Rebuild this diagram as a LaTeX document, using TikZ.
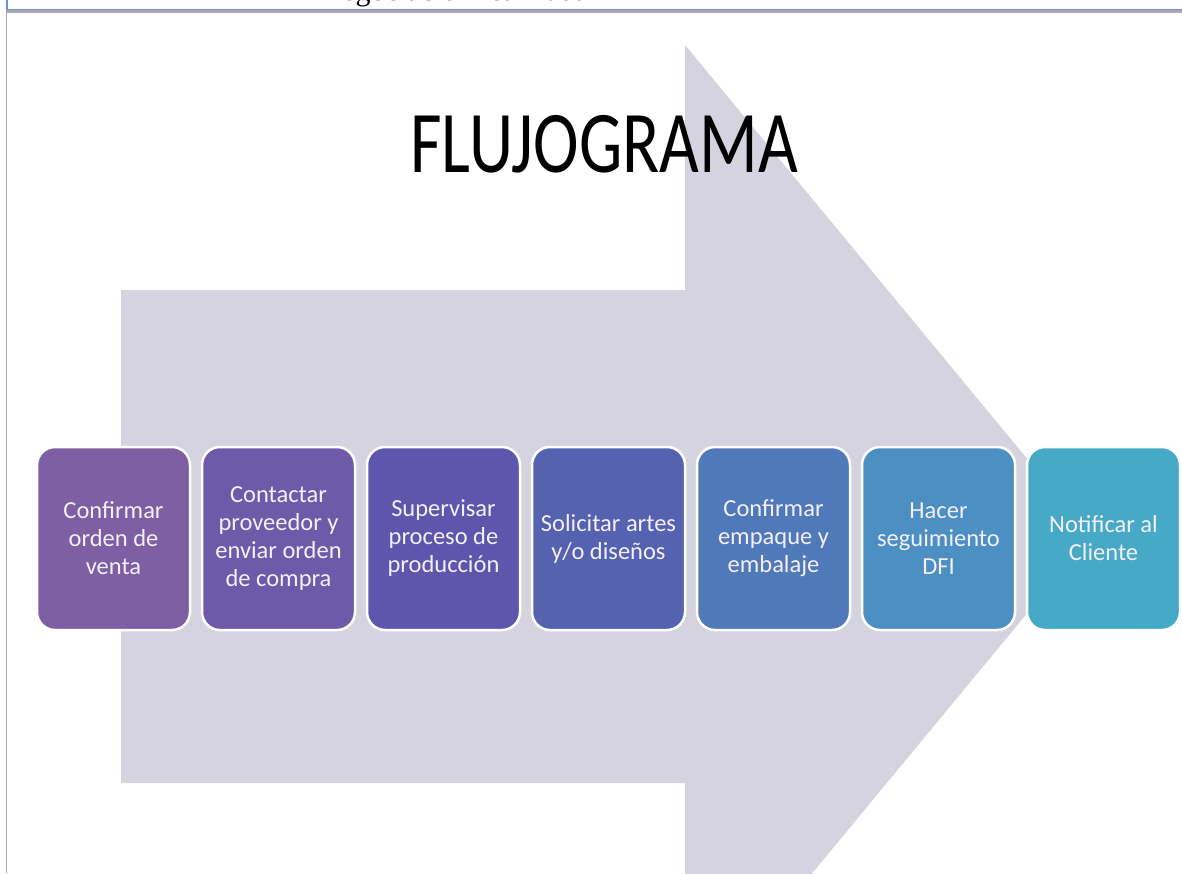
\documentclass[tikz,border=0pt]{standalone}
\usepackage{fontspec}
\setmainfont{Carlito}
\newfontfamily\textoserif{Liberation Serif}
\usetikzlibrary{positioning}

\definecolor{flecha}{HTML}{D6D3E0}
\definecolor{marco}{HTML}{6C95CF}
\definecolor{sombra}{HTML}{A9A9B2}
\definecolor{textopaso}{HTML}{F4EFF8}
\definecolor{paso1}{HTML}{7E5FA3}
\definecolor{paso2}{HTML}{6E5AA8}
\definecolor{paso3}{HTML}{5E56AC}
\definecolor{paso4}{HTML}{5462B0}
\definecolor{paso5}{HTML}{5079BA}
\definecolor{paso6}{HTML}{4C8FC2}
\definecolor{paso7}{HTML}{46AAC6}

\begin{document}
\begin{tikzpicture}[x=1pt,y=-1pt,
  node distance=12pt,
  paso/.style={draw=white, line width=2.5pt, rounded corners=18pt,
    minimum width=153pt, minimum height=183pt, outer sep=0pt, inner sep=0pt,
    align=center, text=textopaso, font=\fontsize{24.5}{28}\selectfont}]
\useasboundingbox (0,0) rectangle (1182,873);
\fill[white] (0,0) rectangle (1182,873);

% flecha de fondo
\begin{scope}
\clip (0,0) rectangle (1182,873);
\fill[flecha] (121,290) -- (685,290) -- (685,45) -- (1091,536)
  -- (685,1027) -- (685,783) -- (121,783) -- cycle;
\end{scope}

% encabezado cortado
\begin{scope}
\clip (0,0) rectangle (1182,8.5);
\node[anchor=base west, inner sep=0pt, font=\textoserif\fontsize{30}{30}\selectfont] (encabezado) at (327,0.5) {negociación realizada};
\end{scope}
\draw[marco, line width=1.5pt] (7,0) -- (7,9.5) -- (1182,9.5);
\draw[sombra, line width=2.5pt] (7,11.5) -- (1182,11.5);
\draw[sombra, line width=1.5pt] (6.5,10) -- (6.5,873);

\node[anchor=base, inner sep=0pt] (titulo) at (604,172)
  {\scalebox{0.78}[1]{\fontsize{88}{90}\selectfont FLUJOGRAMA}};

% pasos
\node[paso, fill=paso1] (confirmar) at (113.5,538.5) {Confirmar\\orden de\\venta};
\node[paso, fill=paso2, right=of confirmar] (contactar) {Contactar\\proveedor y\\enviar orden\\de compra};
\node[paso, fill=paso3, right=of contactar] (supervisar) {Supervisar\\proceso de\\producción};
\node[paso, fill=paso4, right=of supervisar] (solicitar) {Solicitar artes\\y/o diseños};
\node[paso, fill=paso5, right=of solicitar] (empaque) {Confirmar\\empaque y\\embalaje};
\node[paso, fill=paso6, right=of empaque] (seguimiento) {Hacer\\seguimiento\\DFI};
\node[paso, fill=paso7, right=of seguimiento] (notificar) {Notificar al\\Cliente};
\end{tikzpicture}
\end{document}
